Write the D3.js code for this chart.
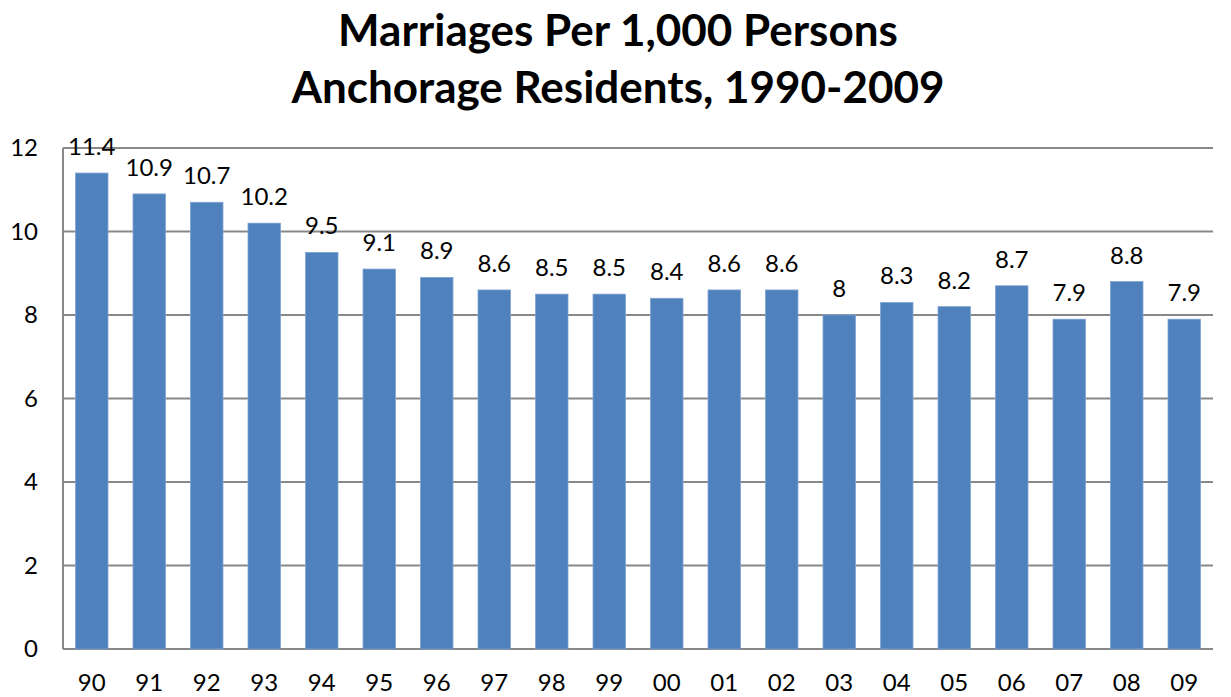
<!DOCTYPE html>
<html>
<head>
<meta charset="utf-8">
<script src="https://cdn.jsdelivr.net/npm/d3@7"></script>
<style>
    body { margin: 0; background: #fff; }
    text { font-family: Lato, "Open Sans", sans-serif; fill: #000; }
</style>
</head>
<body>
<div id="chart"></div>
<script>
// Marriages per 1,000 persons, Anchorage residents
var years = ["90", "91", "92", "93", "94", "95", "96", "97", "98", "99",
    "00", "01", "02", "03", "04", "05", "06", "07", "08", "09"];
var rates = [11.4, 10.9, 10.7, 10.2, 9.5, 9.1, 8.9, 8.6, 8.5, 8.5,
    8.4, 8.6, 8.6, 8, 8.3, 8.2, 8.7, 7.9, 8.8, 7.9];
var yTicks = [0, 2, 4, 6, 8, 10, 12];
var titleLines = ["Marriages Per 1,000 Persons", "Anchorage Residents, 1990-2009"];

var width = 1231, height = 697;
var margin = { top: 148, right: 18, bottom: 48, left: 63 };
var innerW = width - margin.left - margin.right;
var innerH = height - margin.top - margin.bottom;

var svg = d3.select("#chart")
    .append("svg")
    .attr("width", width)
    .attr("height", height);

// title
svg.selectAll(".title")
    .data(titleLines)
    .enter()
    .append("text")
    .attr("class", "title")
    .attr("x", 618)
    .attr("y", (d, i) => 46 + i * 57)
    .attr("text-anchor", "middle")
    .style("font-size", "44px")
    .style("font-weight", "bold")
    .text(d => d);

var g = svg.append("g")
    .attr("transform", "translate(" + margin.left + "," + margin.top + ")");

var x = d3.scaleBand()
    .domain(years)
    .range([0, innerW])
    .paddingInner(0.435)
    .paddingOuter(0.2175);

var y = d3.scaleLinear()
    .domain([0, 12])
    .range([innerH, 0]);

// gridlines
g.selectAll(".grid")
    .data(yTicks)
    .enter()
    .append("line")
    .attr("x1", 0)
    .attr("x2", innerW)
    .attr("y1", d => y(d))
    .attr("y2", d => y(d))
    .attr("stroke", "#888")
    .attr("stroke-width", 2);

// left axis line
g.append("line")
    .attr("x1", 0).attr("x2", 0)
    .attr("y1", 0).attr("y2", innerH)
    .attr("stroke", "#888")
    .attr("stroke-width", 2);

// y labels
g.selectAll(".ylab")
    .data(yTicks)
    .enter()
    .append("text")
    .attr("x", -25)
    .attr("y", d => y(d))
    .attr("dy", "0.35em")
    .attr("text-anchor", "end")
    .style("font-size", "24px")
    .text(d => d);

// bars
g.selectAll(".bar")
    .data(rates)
    .enter()
    .append("rect")
    .attr("x", (d, i) => x(years[i]))
    .attr("y", d => y(d))
    .attr("width", x.bandwidth())
    .attr("height", d => innerH - y(d))
    .attr("fill", "#4f81bd")
    .attr("stroke", "#7fa4d2")
    .attr("stroke-width", 0.8);

// value labels
g.selectAll(".val")
    .data(rates)
    .enter()
    .append("text")
    .attr("x", (d, i) => x(years[i]) + x.bandwidth() / 2)
    .attr("y", d => y(d) - 18)
    .attr("text-anchor", "middle")
    .style("font-size", "24px")
    .text(d => d);

// x labels
g.selectAll(".xlab")
    .data(years)
    .enter()
    .append("text")
    .attr("x", d => x(d) + x.bandwidth() / 2)
    .attr("y", innerH + 34)
    .attr("dy", "0.35em")
    .attr("text-anchor", "middle")
    .style("font-size", "24px")
    .text(d => d);
</script>
</body>
</html>
